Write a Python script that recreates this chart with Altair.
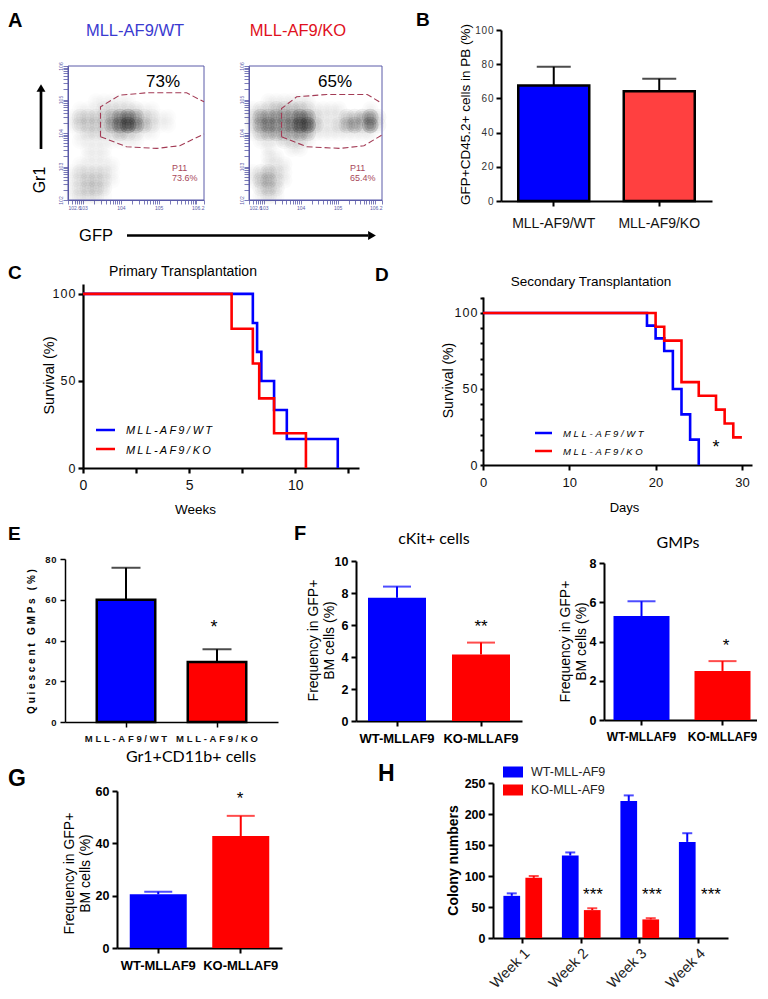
import altair as alt
import pandas as pd

SANS = "Liberation Sans"
THIN = "\u2009"
WT_A, KO_A = "MLL-AF9/WT", "MLL-AF9/KO"
WT_F, KO_F = "WT-MLLAF9", "KO-MLLAF9"
BLUE, RED = "#0000ff", "#ff0000"

def spaced(s, gap=THIN):
    return gap.join(list(s))

# ---- data
b_vals, b_errs = [67.5, 64.2], [78.5, 71.5]
e_vals, e_errs = [60, 29.5], [75.7, 35.7]
f1_vals, f1_errs = [7.7, 4.15], [8.4, 4.9]
f2_vals, f2_errs = [5.3, 2.5], [6.05, 3.0]
g_vals, g_errs = [20.5, 42.8], [21.5, 50.5]

weeks = ["Week 1", "Week 2", "Week 3", "Week 4"]
h_wt, h_wt_err = [68, 133, 221, 155], [72, 138, 230, 169]
h_ko, h_ko_err = [97, 45, 30, 0], [100, 48, 32, 0]

c_wt_x = [0, 8, 8.2, 8.4, 9, 9.6, 12]
c_wt_y = [100, 83.3, 66.7, 50, 33.3, 16.7, 0]
c_ko_x = [0, 7, 8, 8.3, 9, 10.5]
c_ko_y = [100, 80, 60, 40, 20, 0]
d_wt_x = [0, 19, 20, 21, 22, 23, 24, 25]
d_wt_y = [100, 91.7, 83.3, 75, 50, 33.3, 16.7, 0]
d_ko_x = [0, 20, 21, 23, 25, 27, 28, 29, 30]
d_ko_y = [100, 90.9, 81.8, 54.5, 45.5, 36.4, 27.3, 18.2, 18.2]

# flow density read per cell (17 x 17), 0 = empty, 9 = nearly black
wt_density = [
    "00000000000000000", "00000000000000000", "00000000000000000", "00000000000000000",
    "00011111000000000", "01112222211000000", "13333578632110000", "13333689742110000",
    "01222243211000000", "01111111100000000", "00111000000000000", "00111000000000000",
    "01111100000000000", "12222100000000000", "12332100000000000", "12332000000000000",
    "12221000000000000",
]
ko_density = [
    "00000000000000000", "00000000000000000", "00000000000000000", "00000000000000000",
    "00111111000000000", "12233332111100010", "25555576211133462", "25655688311245372",
    "13444454111111110", "01112221000000000", "00100110000000000", "00110000000000000",
    "00111000000000000", "12321000000000000", "13421000000000000", "02320000000000000",
    "01210000000000000",
]
wt_gate_x = [3.46, 3.46, 3.97, 4.68, 5.74, 6.2]
wt_gate_y = [3.89, 4.78, 5.13, 5.20, 5.20, 4.93]
wt_gate2_x = [3.46, 4.15, 4.95, 5.56, 6.2]
wt_gate2_y = [3.89, 3.59, 3.54, 3.62, 3.97]
ko_gate_x = [3.48, 3.48, 3.89, 4.71, 5.8, 6.16]
ko_gate_y = [3.89, 4.73, 5.08, 5.15, 5.15, 4.91]
ko_gate2_x = [3.48, 4.16, 5.07, 5.71, 6.2]
ko_gate2_y = [3.89, 3.59, 3.54, 3.62, 3.94]
flow_x_ticks = [2.6, 2.7, 2.78, 2.85, 2.9, 2.95, 3, 3.3, 3.48, 3.6, 3.7, 3.78, 3.85, 3.9, 3.95, 4,
                4.3, 4.48, 4.6, 4.7, 4.78, 4.85, 4.9, 4.95, 5, 5.3, 5.48, 5.6, 5.7, 5.78, 5.85, 5.9, 5.95, 6, 6.2]
flow_y_ticks = [2, 2.3, 2.48, 2.6, 2.7, 2.78, 2.85, 2.9, 2.95, 3, 3.3, 3.48, 3.6, 3.7, 3.78, 3.85, 3.9, 3.95, 4,
                4.3, 4.48, 4.6, 4.7, 4.78, 4.85, 4.9, 4.95, 5, 5.3, 5.48, 5.6, 5.7, 5.78, 5.85, 5.9, 5.95, 6]

ORIGIN = 0  # x origin of the view being built: each 1px-wide view sits 1px right of the previous one


def X(p):  # page pixel -> view coordinate
    return p - 8 - ORIGIN


def Y(p):
    return p - 8


def txt(s, x, y, size=12, color="black", weight="normal", align="center", angle=0,
        font=SANS, style="normal", baseline="middle"):
    return alt.Chart(pd.DataFrame({"t": [s]})).mark_text(
        fontSize=size, color=color, fontWeight=weight, align=align, angle=angle,
        font=font, fontStyle=style, baseline=baseline,
    ).encode(x=alt.value(X(x)), y=alt.value(Y(y)), text="t:N")


def hline(x0, x1, y, color, w=2.5):
    return alt.Chart(pd.DataFrame({"k": [color]})).mark_rule(color=color, strokeWidth=w).encode(
        x=alt.value(X(x0)), x2=alt.value(X(x1)), y=alt.value(Y(y)))


def vline(x, y0, y1, color, w=2.5):
    return alt.Chart(pd.DataFrame({"k": [color]})).mark_rule(color=color, strokeWidth=w).encode(
        x=alt.value(X(x)), y=alt.value(Y(y0)), y2=alt.value(Y(y1)))


def arrowhead(x, y, shape, size=70):
    return alt.Chart(pd.DataFrame({"k": [shape]})).mark_point(
        shape=shape, filled=True, color="black", opacity=1, size=size
    ).encode(x=alt.value(X(x)), y=alt.value(Y(y)))


def yaxis(x0, title, tx, ty, values, size=10, weight="normal", lw=2, tick=5, tfont=12,
          tweight="normal", color="#222222", spaced_labels=False, pad=3, tcolor="black"):
    kw = dict(
        orient="left", offset=-X(x0), title=title, titleX=X(tx) - X(x0), titleY=Y(ty), titleAngle=270,
        titleAlign="center", titleBaseline="middle", titleFont=SANS, titleFontSize=tfont,
        titleFontWeight=tweight, titleColor=tcolor, values=values, labelFont=SANS, labelFontSize=size,
        labelFontWeight=weight, labelColor=color, labelPadding=pad, domainColor="black", domainWidth=lw,
        tickColor="black", tickWidth=lw, tickSize=tick, grid=False, labelOverlap=False,
    )
    if spaced_labels:
        kw["labelExpr"] = "join(split(datum.label,''),'\u200a')"
    return alt.Axis(**kw)


def xaxis(y0, values=None, title=None, tx=0, ty=0, size=12, weight="normal", lw=2, tick=5, pad=9,
          color="#111111", angle=0, align="center", tfont=12, baseline="top", loff=0):
    kw = dict(
        orient="bottom", offset=Y(y0) - 1, labelFont=SANS, labelFontSize=size, labelFontWeight=weight,
        labelColor=color, labelPadding=pad, domainColor="black", domainWidth=lw, tickColor="black",
        tickWidth=lw, tickSize=tick, grid=False, labelOverlap=False, labelAngle=angle, labelAlign=align,
        labelBaseline=baseline, labelOffset=loff,
    )
    if values is not None:
        kw["values"] = values
    if title is None:
        kw["title"] = None
    else:
        kw.update(title=title, titleX=X(tx), titleY=Y(ty) - Y(y0), titleFont=SANS, titleFontSize=tfont,
                  titleFontWeight="normal", titleAlign="center", titleBaseline="middle", titleColor="black")
    return alt.Axis(**kw)


def band(cats, x0, x1, c0, c1, bar_w):
    step = (c1 - c0) / (len(cats) - 1)
    pi = 1 - bar_w / step
    po = ((x1 - x0) / step - len(cats) + pi) / 2
    return alt.Scale(domain=cats, range=[X(x0), X(x1)], paddingInner=pi, paddingOuter=po)


def bars(cats, vals, errs, colors, x0, x1, c0, c1, bar_w, y0, y1, ymax, yax, xax, cap, stroke=None, err_colors=None):
    df = pd.DataFrame({"c": cats, "v": vals, "e": errs, "col": colors, "ec": err_colors or ["black"] * len(cats)})
    sx = band(cats, x0, x1, c0, c1, bar_w)
    sy = alt.Scale(domain=[0, ymax], range=[Y(y0), Y(y1)], nice=False, zero=False)
    xe = alt.X("c:N", scale=sx, axis=xax, sort=cats, title=None)
    ye = alt.Y("v:Q", scale=sy, axis=yax)
    args = dict(stroke=stroke, strokeWidth=2.5) if stroke else {}
    rule = alt.Chart(df).mark_rule(strokeWidth=2).encode(
        x=xe, y=ye, y2="e:Q", color=alt.Color("ec:N", scale=None))
    capm = alt.Chart(df).mark_tick(size=cap, thickness=2).encode(
        x=xe, y=alt.Y("e:Q", scale=sy, axis=yax), color=alt.Color("ec:N", scale=None))
    bar = alt.Chart(df).mark_bar(**args).encode(x=xe, y=ye, color=alt.Color("col:N", scale=None))
    return [rule, capm, bar]


def flow(rows, gate1x, gate1y, gate2x, gate2y, x0, x1, title, tcolor, tcx, pct, pctx, p11, scale_op, pfx):
    sx = alt.Scale(domain=[2.6, 6.2], range=[X(x0), X(x1)], nice=False, zero=False)
    sy = alt.Scale(domain=[2, 6], range=[Y(200), Y(66)], nice=False, zero=False)
    fx = "#5a5aa8"
    ax_x = alt.Axis(orient="bottom", offset=Y(200) - 1, values=flow_x_ticks, title=None, domainColor=fx, tickColor=fx,
                    tickSize=4, tickWidth=0.8, labelColor=fx, labelFontSize=5, labelFont=SANS, labelPadding=1,
                    labelExpr="indexof([2.6,3,4,5,6.2],datum.value)>=0 ? '10'+datum.value : ''",
                    grid=False, labelOverlap=False)
    ax_y = alt.Axis(orient="left", offset=-X(x0), values=flow_y_ticks, title=None, domainColor=fx, tickColor=fx,
                    tickSize=5, tickWidth=0.8, labelColor=fx, labelFontSize=5, labelFont=SANS, labelPadding=0,
                    labelAngle=270, labelAlign="center", labelBaseline="bottom",
                    labelExpr="indexof([2,3,4,5,6],datum.value)>=0 ? '10'+datum.value : ''",
                    grid=False, labelOverlap=False)
    cells = []
    for r, row in enumerate(rows):
        for c, d in enumerate(row):
            if d != "0":
                cells.append({"x": 2.6 + (c + 0.5) / 17 * 3.6, "y": 6 - (r + 0.5) / 17 * 4,
                              "o": 1 - (1 - int(d) / 10) ** scale_op})
    cell_df = pd.DataFrame(cells)
    # three nested soft discs per cell give a smooth density falloff
    clouds = [
        alt.Chart(cell_df).mark_circle(size=sz, color="#111111").encode(
            x=alt.X("x:Q", scale=sx, axis=ax_x), y=alt.Y("y:Q", scale=sy, axis=ax_y),
            opacity=alt.Opacity("o:Q", scale=None))
        for sz in (280, 150, 60)
    ]
    frame = alt.Chart(pd.DataFrame({"a": [2.6], "a2": [6.2], "b": [2], "b2": [6]})).mark_rect(
        fill=None, stroke=fx, strokeWidth=1).encode(
        x=alt.X("a:Q", scale=sx, axis=ax_x), x2="a2:Q", y=alt.Y("b:Q", scale=sy, axis=ax_y), y2="b2:Q")

    def gate(xs, ys):
        g = pd.DataFrame({"x": xs, "y": ys, "i": list(range(len(xs)))})
        return alt.Chart(g).mark_line(color="#a33b55", strokeWidth=1.1, strokeDash=[6, 3]).encode(
            x=alt.X("x:Q", scale=sx, axis=ax_x), y=alt.Y("y:Q", scale=sy, axis=ax_y), order="i:Q")

    return [*clouds, frame, gate(gate1x, gate1y), gate(gate2x, gate2y),
            txt(title, tcx, 31, 16.5, tcolor),
            txt(pct, pctx, 82, 17),
            txt("P11", p11, 168, 9, "#a8485a", align="left"),
            txt(pfx, p11, 178, 9, "#a8485a", align="left")]


def survival(wx, wy, kx, ky, x0, x1, xmax, y0, y1, ymax, xvals, xax, yax):
    rows = [{"x": a, "y": b, "g": BLUE, "i": i} for i, (a, b) in enumerate(zip(wx, wy))]
    rows += [{"x": a, "y": b, "g": RED, "i": i} for i, (a, b) in enumerate(zip(kx, ky))]
    sx = alt.Scale(domain=[0, xmax], range=[X(x0), X(x1)], nice=False, zero=False)
    sy = alt.Scale(domain=[0, ymax], range=[Y(y0), Y(y1)], nice=False, zero=False)
    return alt.Chart(pd.DataFrame(rows)).mark_line(interpolate="step-after", strokeWidth=2.6).encode(
        x=alt.X("x:Q", scale=sx, axis=xax), y=alt.Y("y:Q", scale=sy, axis=yax),
        color=alt.Color("g:N", scale=None), order="i:Q", detail="g:N")


panels = []

# ---- A
ORIGIN = 0
a1 = flow(wt_density, wt_gate_x, wt_gate_y, wt_gate2_x, wt_gate2_y, 68, 204, WT_A, "#3a3ad0", 135, "73%", 163,
          172, 0.125, "73.6%")
a1 += [txt("A", 8, 11, 20, weight="bold", align="left", baseline="top"),
       txt("Gr1", 40, 180, 16, angle=270), vline(41, 149, 90, "black", 2.7), arrowhead(41, 88, "triangle-up", 80),
       txt("GFP", 96, 236, 16.5), hline(127, 368, 235.5, "black", 2.7), arrowhead(372, 235.5, "triangle-right", 80)]
panels.append(alt.layer(*a1).properties(width=1, height=1))
ORIGIN = 1
a2 = flow(ko_density, ko_gate_x, ko_gate_y, ko_gate2_x, ko_gate2_y, 249, 382, KO_A, "#e01020", 298, "65%", 335,
          350, 0.16, "65.4%")
panels.append(alt.layer(*a2).properties(width=1, height=1))

# ---- B
ORIGIN = 2
ya = yaxis(501, "GFP+CD45.2+ cells in PB (%)", 465, 114, [0, 20, 40, 60, 80, 100], size=10, spaced_labels=True,
           color="#333333", tfont=13.5)
xa = xaxis(201, size=14, pad=10)
b = bars([WT_A, KO_A], b_vals, b_errs, [BLUE, "#ff4040"], 501, 712, 553.5, 659, 71, 201, 30, 100, ya, xa, 34, stroke="black")
panels.append(alt.layer(*b, txt("B", 416, 11, 19, weight="bold", align="left", baseline="top")).properties(width=1, height=1))

# ---- C
ORIGIN = 3
ya = yaxis(83, "Survival (%)", 49, 375, [0, 50, 100], size=12.5, spaced_labels=True, tfont=14.5, lw=2.2, color="#111111")
xa = xaxis(468, [0, 2.5, 5, 7.5, 10, 12.5], "Weeks", 195, 509, size=14, lw=2.2, tfont=13.5,
           pad=5, color="#111111")
xa.labelExpr = "indexof([0,5,10],datum.value)>=0 ? datum.label : ''"
c = survival(c_wt_x, c_wt_y, c_ko_x, c_ko_y, 83, 359, 13, 468, 284, 105.7, None, xa, ya)
panels.append(alt.layer(
    c, txt("C", 8, 273, 19, weight="bold", align="left"),
    txt("Primary Transplantation", 183, 272, 14),
    hline(96, 115, 430, BLUE), hline(96, 115, 449, RED),
    txt(spaced("MLL-AF9/") + " " + spaced("WT"), 126, 431, 11, style="italic", align="left"),
    txt(spaced("MLL-AF9/") + " " + spaced("KO"), 126, 451, 11, style="italic", align="left"),
).properties(width=1, height=1))

# ---- D
ORIGIN = 4
ya = yaxis(483, "Survival (%)", 448, 380, [0, 10, 20, 30, 40, 50, 60, 70, 80, 90, 100, 110], size=12.5, tfont=14,
           lw=2, tick=3, color="#111111")
ya.labelExpr = "indexof([0,50,100],datum.value)>=0 ? join(split(datum.label,''),'\u200a') : ''"
xa = xaxis(465, [0, 10, 20, 30], "Days", 624, 507, size=13, lw=2, pad=6, tfont=13, color="#111111")
d = survival(d_wt_x, d_wt_y, d_ko_x, d_ko_y, 483, 752, 31.17, 465, 297, 110.5, None, xa, ya)
GAP_D = "\u2009\u200a"
panels.append(alt.layer(
    d, txt("D", 375, 275, 19, weight="bold", align="left"),
    txt("Secondary Transplantation", 591, 282, 13.5),
    hline(535, 552, 433, BLUE), hline(535, 552, 451, RED),
    txt(spaced("MLL-AF9/", GAP_D) + " " + spaced("WT", GAP_D), 563, 434, 9.5, style="italic", align="left"),
    txt(spaced("MLL-AF9/", GAP_D) + " " + spaced("KO", GAP_D), 563, 452, 9.5, style="italic", align="left"),
    txt("*", 716, 448, 18),
).properties(width=1, height=1))

# ---- E
ORIGIN = 5
e_title = spaced("Quiescent", " ") + "\u00a0\u00a0\u00a0" + spaced("GMPs", " ") + "\u00a0\u00a0\u00a0" + spaced("(%)", " ")
ya = yaxis(65, e_title, 31, 641, [0, 20, 40, 60, 80], size=9.5, weight="bold", lw=1.5, tick=5,
           tfont=10, tweight="bold", spaced_labels=True, pad=4, color="#111111")
xa = xaxis(722, size=9.5, weight="bold", lw=1.5, pad=6)
xa.labelExpr = "join(split(datum.label,''),'\u2009\u200a')"
e = bars([WT_A, KO_A], e_vals, e_errs, [BLUE, RED], 65, 278, 126, 217, 58.5, 722, 559, 80, ya, xa, 29, stroke="black")
panels.append(alt.layer(*e, txt("E", 8, 534, 19, weight="bold", align="left"), txt("*", 214, 628, 18)).properties(width=1, height=1))


# ---- F1
def ftitle():
    return ["Frequency in GFP+", "BM cells (%)"]


ORIGIN = 6
ya = yaxis(356, ftitle(), 313, 640, [0, 2, 4, 6, 8, 10], size=12.5, weight="bold", lw=2, tfont=14, color="black", pad=3)
xa = xaxis(721, size=13, weight="bold", pad=6, color="black")
f1 = bars([WT_F, KO_F], f1_vals, f1_errs, [BLUE, RED], 356, 522, 397, 481, 58, 721, 561, 10, ya, xa, 28, err_colors=[BLUE, RED])
panels.append(alt.layer(*f1, txt("F", 294, 534, 20, weight="bold", align="left"),
                        txt("cKit+ cells", 434, 539, 16, font="Lato"), txt("**", 481, 627, 17)).properties(width=1, height=1))

# ---- F2
ORIGIN = 7
ya = yaxis(604, ftitle(), 565, 641, [0, 2, 4, 6, 8], size=12.5, weight="bold", lw=2, tfont=14, color="black", pad=3)
xa = xaxis(720, size=12, weight="bold", pad=6, color="black")
f2 = bars([WT_F, KO_F], f2_vals, f2_errs, [BLUE, RED], 604, 760, 645, 726, 56, 720, 563, 8, ya, xa, 28, err_colors=[BLUE, RED])
panels.append(alt.layer(*f2, txt("GMPs", 678, 543, 16, font="Lato"), txt("*", 726, 646, 17)).properties(width=1, height=1))

# ---- G
ORIGIN = 8
ya = yaxis(117, ftitle(), 69, 873, [0, 20, 40, 60], size=12.5, weight="bold", lw=2, tfont=14, color="black", pad=3)
xa = xaxis(948, size=13, weight="bold", pad=6, color="black")
g = bars([WT_F, KO_F], g_vals, g_errs, [BLUE, RED], 117, 282, 157.5, 240, 57, 948, 791, 60, ya, xa, 28, err_colors=[BLUE, RED])
panels.append(alt.layer(*g, txt("G", 8, 779, 23, weight="bold", align="left"),
                        txt("Gr1+CD11b+ cells", 191, 757, 16, font="Lato"), txt("*", 240, 799, 17)).properties(width=1, height=1))

# ---- H
ORIGIN = 9
h_rows = []
for i, w in enumerate(weeks):
    h_rows.append({"w": w, "s": "WT", "v": h_wt[i], "e": h_wt_err[i], "col": BLUE})
    h_rows.append({"w": w, "s": "KO", "v": h_ko[i], "e": h_ko_err[i], "col": RED})
h_df = pd.DataFrame(h_rows)
h_sx = band(weeks, 493, 728, 522.7, 698.2, 38.7)
h_sy = alt.Scale(domain=[0, 250], range=[Y(938), Y(783)], nice=False, zero=False)
ya = yaxis(493, "Colony numbers", 453, 860, [0, 50, 100, 150, 200, 250], size=12.5, weight="bold", lw=2, tfont=14,
           tweight="bold", color="black", pad=3)
xa = xaxis(938, size=14.5, pad=8, color="#222222", angle=315, align="right", baseline="middle", loff=5)
hx = alt.X("w:N", scale=h_sx, axis=xa, sort=weeks, title=None)
hy = alt.Y("v:Q", scale=h_sy, axis=ya)
hoff = alt.XOffset("s:N", sort=["WT", "KO"], scale=alt.Scale(domain=["WT", "KO"], paddingInner=0.24, paddingOuter=0))
hcolor = alt.Color("col:N", scale=None)
h_err = h_df[h_df["v"] > 0]
h_layers = [
    alt.Chart(h_err).mark_rule(strokeWidth=2).encode(x=hx, xOffset=hoff, y=hy, y2="e:Q", color=hcolor),
    alt.Chart(h_err).mark_tick(size=10, thickness=2).encode(x=hx, xOffset=hoff, y=alt.Y("e:Q", scale=h_sy, axis=ya), color=hcolor),
    alt.Chart(h_df).mark_bar().encode(x=hx, xOffset=hoff, y=hy, color=hcolor),
]
h_leg = [
    alt.Chart(pd.DataFrame({"k": [c]})).mark_rect(color=c).encode(
        x=alt.value(X(503)), x2=alt.value(X(523)), y=alt.value(Y(yy - 5.5)), y2=alt.value(Y(yy + 5.5)))
    for c, yy in [(BLUE, 772), (RED, 790)]
]
panels.append(alt.layer(
    *h_layers, *h_leg,
    txt("H", 378, 774, 23, weight="bold", align="left"),
    txt("WT-MLL-AF9", 531, 772, 12.5, "#222222", align="left"),
    txt("KO-MLL-AF9", 531, 790, 12.5, "#222222", align="left"),
    txt("***", 593, 895, 17), txt("***", 652, 895, 17), txt("***", 711, 895, 17),
).properties(width=1, height=1))

chart = alt.hconcat(*panels, spacing=0, bounds="flush", padding=0).configure_view(stroke=None).configure_axis(grid=False)
chart.save("out.html", embed_options={"renderer": "svg", "actions": False})
